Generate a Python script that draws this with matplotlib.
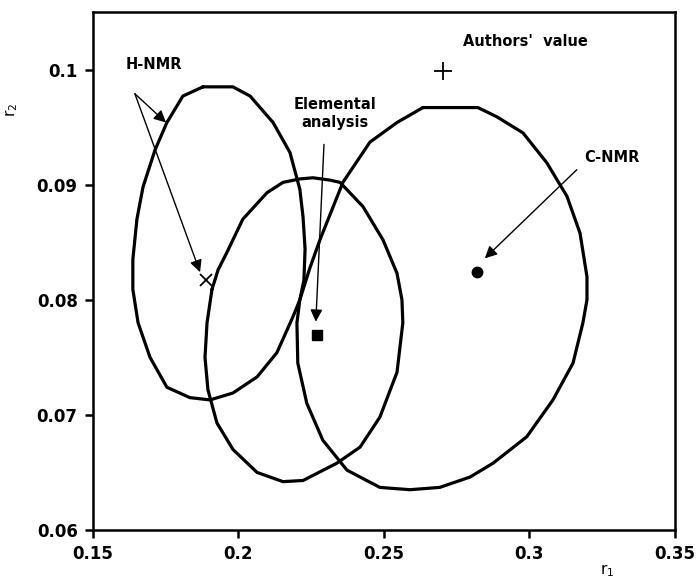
import numpy as np
import matplotlib.pyplot as plt

plt.rcParams['font.family'] = ['DejaVu Sans']
plt.rcParams['mathtext.default'] = 'regular'

# joint confidence regions (r1, r2)
h_nmr_r1 = [0.1878, 0.1981, 0.2040, 0.2119, 0.2177, 0.2211, 0.2222, 0.2229, 0.2225,
            0.2211, 0.2187, 0.2132, 0.2064, 0.1981, 0.1902, 0.1833, 0.1754, 0.1696,
            0.1655, 0.1637, 0.1637, 0.1651, 0.1672, 0.1713, 0.1754, 0.1809]
h_nmr_r2 = [0.0985, 0.0985, 0.0977, 0.0954, 0.0928, 0.0896, 0.0872, 0.0844, 0.0817,
            0.0800, 0.0785, 0.0754, 0.0733, 0.0719, 0.0713, 0.0715, 0.0724, 0.0750,
            0.0780, 0.0809, 0.0835, 0.0870, 0.0898, 0.0930, 0.0954, 0.0977]

elem_r1 = [0.1909, 0.1930, 0.1960, 0.2015, 0.2098, 0.2153, 0.2211, 0.2256, 0.2314,
           0.2349, 0.2428, 0.2497, 0.2545, 0.2562, 0.2565, 0.2545, 0.2486, 0.2418,
           0.2338, 0.2222, 0.2153, 0.2064, 0.1981, 0.1926, 0.1895, 0.1885, 0.1892]
elem_r2 = [0.0809, 0.0826, 0.0841, 0.0870, 0.0893, 0.0902, 0.0905, 0.0906, 0.0904,
           0.0902, 0.0881, 0.0852, 0.0823, 0.0800, 0.0780, 0.0737, 0.0698, 0.0672,
           0.0658, 0.0643, 0.0642, 0.0650, 0.0670, 0.0693, 0.0722, 0.0750, 0.0780]

c_nmr_r1 = [0.2634, 0.2823, 0.2888, 0.2978, 0.3060, 0.3129, 0.3174, 0.3198, 0.3198,
            0.3184, 0.3150, 0.3081, 0.2991, 0.2875, 0.2796, 0.2692, 0.2589, 0.2486,
            0.2373, 0.2290, 0.2235, 0.2204, 0.2201, 0.2211, 0.2246, 0.2280, 0.2359,
            0.2452, 0.2545]
c_nmr_r2 = [0.0967, 0.0967, 0.0959, 0.0945, 0.0919, 0.0890, 0.0858, 0.0820, 0.0800,
            0.0780, 0.0745, 0.0713, 0.0681, 0.0658, 0.0646, 0.0637, 0.0635, 0.0637,
            0.0652, 0.0678, 0.0710, 0.0745, 0.0780, 0.0800, 0.0828, 0.0852, 0.0902,
            0.0937, 0.0954]

# point estimates
h_nmr_pt = (0.1888, 0.0817)
elem_pt = (0.2270, 0.0769)
c_nmr_pt = (0.2819, 0.0824)
authors_pt = (0.2703, 0.0999)

fig = plt.figure(figsize=(6.96, 5.81), dpi=100)
ax = fig.add_axes([0.1336, 0.0878, 0.836, 0.8915])

for xs, ys in [(h_nmr_r1, h_nmr_r2), (elem_r1, elem_r2), (c_nmr_r1, c_nmr_r2)]:
    ax.plot(xs + xs[:1], ys + ys[:1], color='black', lw=2.3,
            solid_joinstyle='round', solid_capstyle='round')

ax.plot(*h_nmr_pt, marker='x', color='black', ms=9, mew=1.3)
ax.plot(*elem_pt, marker='s', color='black', ms=7, ls='none')
ax.plot(*c_nmr_pt, marker='o', color='black', ms=7.5, ls='none')
ax.plot(*authors_pt, marker='+', color='black', ms=13, mew=1.3)

arrow = dict(arrowstyle='-|>', color='black', lw=1.0, mutation_scale=18,
             shrinkA=0, shrinkB=0)
ax.annotate('', xy=(0.1751, 0.0954), xytext=(0.1644, 0.0979), arrowprops=arrow)
ax.annotate('', xy=(0.1868, 0.0824), xytext=(0.1644, 0.0979), arrowprops=arrow)
ax.annotate('', xy=(0.2266, 0.0781), xytext=(0.2294, 0.0935), arrowprops=arrow)
ax.annotate('', xy=(0.2847, 0.0836), xytext=(0.3163, 0.0913), arrowprops=arrow)

txt = dict(fontsize=10.5, fontweight='bold', ha='center', va='center')
ax.text(0.1710, 0.1004, 'H-NMR', **txt)
ax.text(0.2331, 0.0962, 'Elemental\nanalysis', linespacing=1.2, **txt)
ax.text(0.2988, 0.1024, "Authors'  value", **txt)
ax.text(0.3283, 0.0924, 'C-NMR', **txt)

ax.set_xlim(0.15, 0.35)
ax.set_ylim(0.06, 0.105)
ax.set_xticks([0.15, 0.2, 0.25, 0.3, 0.35])
ax.set_xticklabels(['0.15', '0.2', '0.25', '0.3', '0.35'])
ax.set_yticks([0.06, 0.07, 0.08, 0.09, 0.1])
ax.set_yticklabels(['0.06', '0.07', '0.08', '0.09', '0.1'])
ax.tick_params(direction='out', length=6, width=1.8, labelsize=12, pad=5,
               top=False, right=False)
for lbl in ax.get_xticklabels() + ax.get_yticklabels():
    lbl.set_fontweight('bold')
for sp in ax.spines.values():
    sp.set_linewidth(1.8)

ax.set_xlabel('r$_1$', fontsize=11)
ax.xaxis.set_label_coords(0.883, -0.062)
ax.set_ylabel('r$_2$', fontsize=11)
ax.yaxis.set_label_coords(-0.125, 0.81)

fig.savefig('out.png', dpi=100)
